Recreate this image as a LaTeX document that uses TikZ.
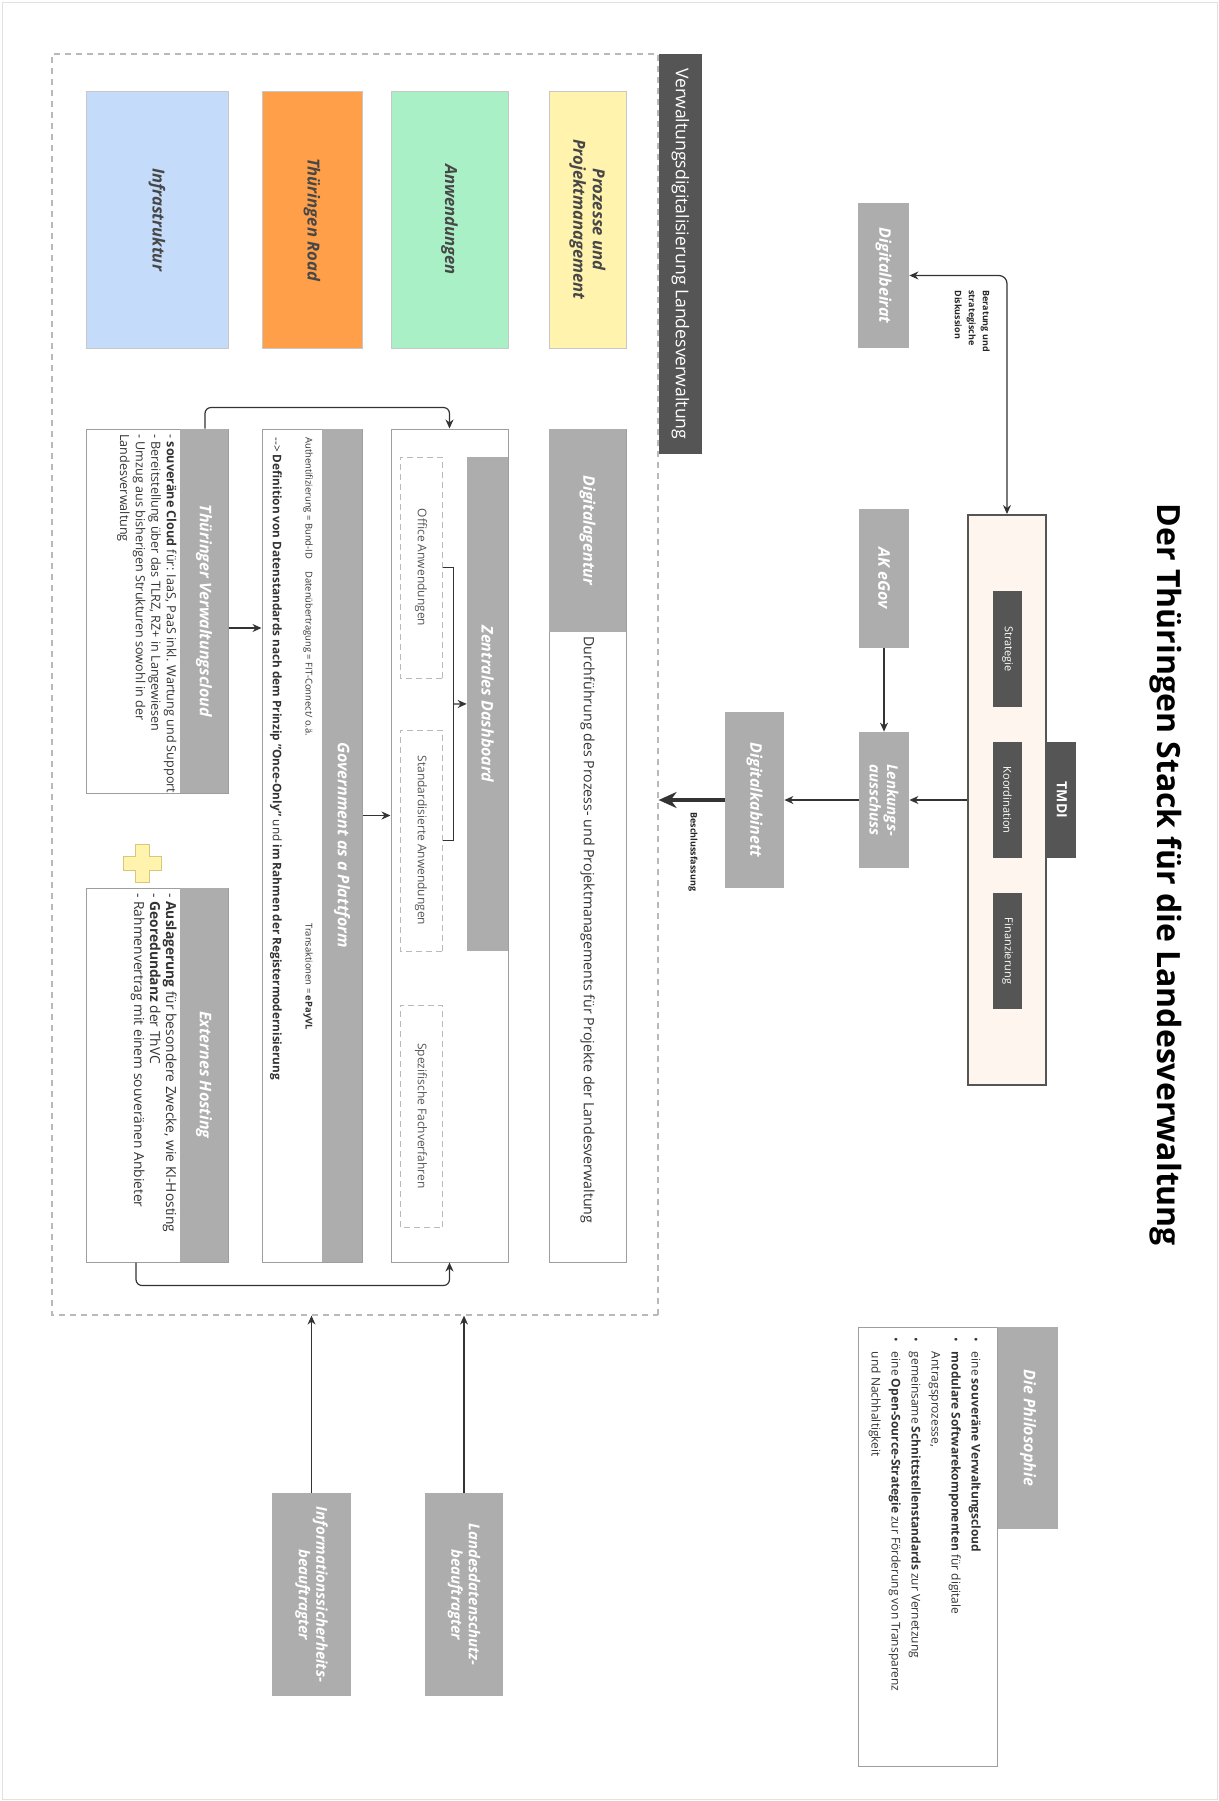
\documentclass[tikz,border=0pt]{standalone}
\usepackage{fontspec}
\setmainfont{Open Sans}
\usetikzlibrary{%
	calc,%
	arrows.meta,%
}
\definecolor{cgray}{RGB}{173, 173, 173}
\definecolor{cdark}{RGB}{85, 85, 85}
\definecolor{cline}{RGB}{51, 51, 51}
\definecolor{cborder}{RGB}{158, 158, 158}
\definecolor{cdashed}{RGB}{185, 185, 185}
\definecolor{cframe}{RGB}{225, 225, 225}
\definecolor{cpeach}{RGB}{253, 245, 238}
\definecolor{cyellowlight}{RGB}{255, 243, 174}
\definecolor{cgreenlight}{RGB}{170, 240, 198}
\definecolor{corange}{RGB}{255, 159, 74}
\definecolor{cbluelight}{RGB}{196, 219, 249}
\definecolor{cplus}{RGB}{214, 200, 120}
\tikzset{%
	>={Stealth[length=4.5pt, width=4pt]},%
	nodes={align=center, rotate=-90},%
	sz/.style 2 args={%
			minimum height=#1*0.5pt,%
			minimum width=#2*0.5pt},%
	graybox/.style={%
			fill=cgray,%
			text=white,%
			inner sep=1pt,%
			font=\bfseries\itshape\fontsize{8}{9.4}\selectfont},%
	twoline/.style={%
			font=\bfseries\itshape\fontsize{7.5}{8.8}\selectfont},%
	darkbox/.style={%
			fill=cdark,%
			text=white,%
			inner sep=1pt,%
			font=\fontsize{5.5}{6.6}\selectfont},%
	colorbox/.style={%
			draw=black!22,%
			line width=0.5pt,%
			text=black!72,%
			font=\bfseries\itshape\fontsize{8.3}{9.8}\selectfont},%
	whitebox/.style={%
			draw=cborder,%
			fill=white,%
			line width=0.5pt},%
	innerbox/.style={%
			draw=cdashed,%
			dash pattern=on 3pt off 2pt,%
			line width=0.5pt,%
			text=cdark,%
			font=\fontsize{6}{7.2}\selectfont},%
	lbl/.style={%
			inner sep=0pt,%
			align=left,%
			text=black!85,%
			font=\bfseries\fontsize{4.5}{7}\selectfont},%
	smalltext/.style={%
			inner sep=0pt,%
			align=left,%
			text=black!80,%
			font=\fontsize{4.7}{7}\selectfont},%
	conn/.style={%
			->,%
			draw=cline,%
			line width=0.6pt},%
}
\begin{document}
\begin{tikzpicture}[x=0.5pt, y=-0.5pt]%
	\useasboundingbox (0,0) rectangle (1219,1801);
	\draw[cframe, line width=0.5pt] (2,2) rectangle (1217,1799);

	\node[inner sep=0pt, font=\bfseries\fontsize{16}{19}\selectfont] (title) at (1166,875) {Der Thüringen Stack für die Landesverwaltung};

	\node[fill=cpeach, draw=cdark, line width=1pt, sz={78}{570}] (tmdi) at (1007,800) {};
	\node[darkbox, font=\bfseries\fontsize{7}{8}\selectfont, sz={29}{116}, anchor=south] (tmditab) at (tmdi.north) {TMDI};
	\node[darkbox, sz={29}{116}] (koord) at (1007.5,800) {Koordination};
	\node[darkbox, sz={29}{116}] (strategie) at ($(koord)+(0,-151)$) {Strategie};
	\node[darkbox, sz={29}{116}] (finanz) at ($(koord)+(0,151)$) {Finanzierung};

	\node[graybox, sz={51}{145}] (beirat) at (883.5,275.5) {Digitalbeirat};
	\node[graybox, sz={50}{139}] (akegov) at (884,578.5) {AK eGov};
	\node[graybox, twoline, sz={50}{136}] (lenkung) at (884,800) {Lenkungs-\\ausschuss};
	\node[graybox, sz={59}{176}] (kabinett) at (754.5,800) {Digitalkabinett};

	\draw[conn, <->, rounded corners=4pt] (beirat) -| (tmdi);
	\node[lbl, anchor=north west] (beratung) at (990,290) {Beratung und\\strategische\\Diskussion};
	\draw[conn] (akegov) -- (lenkung);
	\draw[conn] (tmdi) -- (lenkung);
	\draw[conn] (lenkung) -- (kabinett);

	\node[draw=cdashed, dash pattern=on 3pt off 2.5pt, line width=0.6pt, sz={606}{1261}] (stack) at (355,684.5) {};
	\node[darkbox, font=\fontsize{8.8}{10.5}\selectfont, sz={43}{400}, anchor=south west] (stacktab) at (stack.north west) {Verwaltungsdigitalisierung Landesverwaltung};

	\draw[draw=cline, line width=1.6pt, -{Stealth[length=9pt, width=8pt]}] (kabinett) -- (kabinett -| stack.north);
	\node[lbl, anchor=west] (beschluss) at (693,812) {Beschlussfassung};

	\node[colorbox, fill=cyellowlight, sz={77}{257}] (prozesse) at (587.5,219.5) {Prozesse und\\Projektmanagement};
	\node[colorbox, fill=cgreenlight, sz={117}{257}] (anwendungen) at (449.5,219.5) {Anwendungen};
	\node[colorbox, fill=corange, sz={100}{257}] (road) at (312,219.5) {Thüringen Road};
	\node[colorbox, fill=cbluelight, sz={142}{257}] (infra) at (157,219.5) {Infrastruktur};

	\node[whitebox, sz={77}{833}] (agentur) at (587.5,845.5) {};
	\node[graybox, sz={77}{203}, anchor=north west] (agenturhead) at (agentur.north west) {Digitalagentur};
	\node[smalltext, font=\fontsize{7.1}{8.5}\selectfont] (agenturtxt) at (587.5,930) {Durchführung des Prozess- und Projektmanagements für Projekte der Landesverwaltung};

	\node[whitebox, sz={117}{833}] (dash) at (449.5,845.5) {};
	\node[graybox, sz={41}{494}, anchor=north west] (dashtab) at ($(dash.north west)+(0,28)$) {Zentrales Dashboard};
	\node[innerbox, sz={42}{221}] (office) at (421,567.5) {Office Anwendungen};
	\node[innerbox, sz={42}{221}] (standard) at (421,840.5) {Standardisierte Anwendungen};
	\node[innerbox, sz={42}{222}] (spezial) at (421,1116) {Spezifische Fachverfahren};
	\draw[draw=cline, line width=0.6pt] (office.north) -- ++(11,0) coordinate (brk1) -- (brk1 |- standard.north) coordinate (brk2) -- (standard.north);
	\draw[conn] ($(brk1)!0.5!(brk2)$) -- (dashtab.south);

	\node[whitebox, sz={100}{833}] (gaap) at (312,845.5) {};
	\node[graybox, sz={40}{833}, anchor=north west] (gaaphead) at (gaap.north west) {Government as a Plattform};
	\node[smalltext, anchor=west] (auth) at (308,437) {Authentifizierung = Bund-ID};
	\node[smalltext, anchor=west] (transfer) at (308,571) {Datenübertragung = FIT-Connect/ o.ä.};
	\node[smalltext, anchor=west] (pay) at (308,923) {Transaktionen = \textbf{ePayVL}};
	\node[smalltext, anchor=west, font=\fontsize{5.9}{7}\selectfont] (datastd) at (276,437) {-{}-{}> \textbf{Definition von Datenstandards nach dem Prinzip "Once-Only"} und \textbf{im Rahmen der Registermodernisierung}};

	\node[whitebox, sz={142}{364}] (tvc) at (157,611) {};
	\node[graybox, sz={48}{364}, anchor=north west] (tvchead) at (tvc.north west) {Thüringer Verwaltungscloud};
	\node[smalltext, anchor=north west, font=\fontsize{6.3}{7.8}\selectfont] (tvctxt) at (177,434) {- \textbf{souveräne Cloud} für: IaaS, PaaS inkl. Wartung und Support\\- Bereitstellung über das TLRZ, RZ+ in Langewiesen\\- Umzug aus bisherigen Strukturen sowohl in der\\Landesverwaltung};

	\node[whitebox, sz={142}{374}] (ext) at (157,1075) {};
	\node[graybox, sz={48}{374}, anchor=north west] (exthead) at (ext.north west) {Externes Hosting};
	\node[smalltext, anchor=north west, font=\fontsize{6.9}{8}\selectfont] (exttxt) at (177,893) {- \textbf{Auslagerung} für besondere Zwecke, wie KI-Hosting\\- \textbf{Georedundanz} der ThVC\\- Rahmenvertrag mit einem souveränen Anbieter};

	\filldraw[fill=cyellowlight, draw=cplus, line width=0.5pt] (135,844) -- (149,844) -- (149,856) -- (161,856) -- (161,870) -- (149,870) -- (149,882) -- (135,882) -- (135,870) -- (123,870) -- (123,856) -- (135,856) -- cycle;

	\draw[conn] ([yshift=-8.5pt]tvc.north) coordinate (tvcout) -- (tvcout -| gaap.south);
	\draw[conn] ([yshift=15pt]gaap.north) coordinate (gaapout) -- (gaapout -| dash.south);
	\draw[conn, rounded corners=3pt] ([xshift=24pt]tvc.west) -- ++(0,-21) -| (dash.west);
	\draw[conn, rounded corners=3pt] ([xshift=-10.5pt]ext.east) -- ++(0,23) -| (dash.east);

	\node[graybox, twoline, sz={78}{203}] (lds) at (464,1594.5) {Landesdatenschutz-\\beauftragter};
	\node[graybox, twoline, sz={79}{203}] (iss) at (311.5,1594.5) {Informationssicherheits-\\beauftragter};
	\draw[conn] (lds) -- (lds |- stack.east);
	\draw[conn] (iss) -- (iss |- stack.east);

	\node[whitebox, sz={139}{439}] (philo) at (927.5,1546.5) {};
	\node[graybox, sz={60}{202}, anchor=south west] (philotab) at (philo.north west) {Die Philosophie};
	\node[inner sep=0pt, anchor=north west, text=black!80, font=\fontsize{6}{10}\selectfont] (philotxt) at (986,1337) {\begin{tabular}{@{}l@{\hspace{5pt}}l@{}}
			• & eine \textbf{souveräne Verwaltungscloud}                            \\
			• & \textbf{modulare Softwarekomponenten} für digitale                   \\
			  & Antragsprozesse,                                                     \\
			• & gemeinsame \textbf{Schnittstellenstandards} zur Vernetzung           \\
			• & eine \textbf{Open-Source-Strategie} zur Förderung von Transparenz    \\
			  & und Nachhaltigkeit                                                   \\
		\end{tabular}};
\end{tikzpicture}
\end{document}
